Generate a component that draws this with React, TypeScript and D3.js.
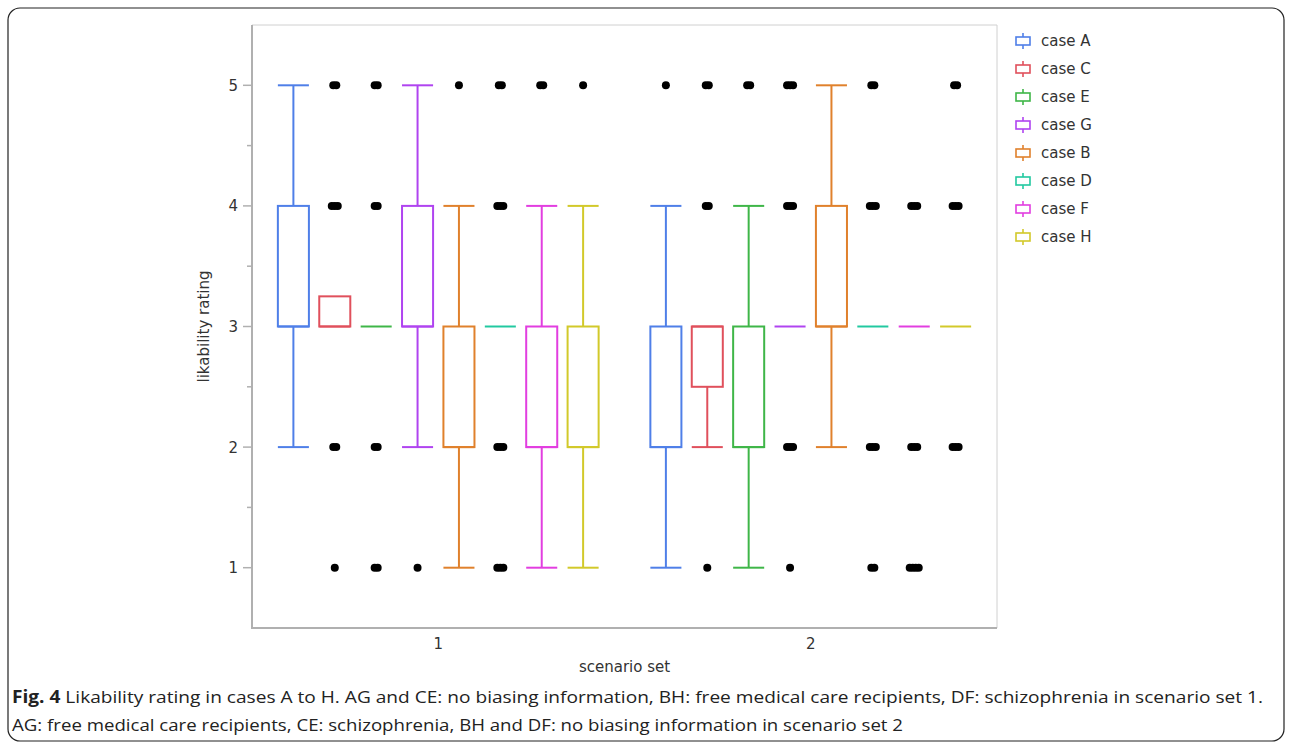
import React from "react";
import * as d3 from "d3";

const scenarios = ["1", "2"];
const cases = ["case A", "case C", "case E", "case G", "case B", "case D", "case F", "case H"];
const caseColors = ["#4f7fe8", "#e0505c", "#3fb648", "#b044f0", "#e0812c", "#22c9a0", "#e23ee0", "#d2c92a"];
const yTicks = [1, 2, 3, 4, 5];

// [whiskerLow, q1, median, q3, whiskerHigh]
const set1Stats = [
  [2, 3, 3, 4, 5],
  [3, 3, 3, 3.25, 3.25],
  [3, 3, 3, 3, 3],
  [2, 3, 3, 4, 5],
  [1, 2, 2, 3, 4],
  [3, 3, 3, 3, 3],
  [1, 2, 2, 3, 4],
  [1, 2, 2, 3, 4],
];
const set2Stats = [
  [1, 2, 2, 3, 4],
  [2, 2.5, 3, 3, 3],
  [1, 2, 2, 3, 4],
  [3, 3, 3, 3, 3],
  [2, 3, 3, 4, 5],
  [3, 3, 3, 3, 3],
  [3, 3, 3, 3, 3],
  [3, 3, 3, 3, 3],
];
// outliers: [value, overlapping count]
const set1Outliers = [
  [],
  [[5, 2], [4, 3], [2, 2], [1, 1]],
  [[5, 2], [4, 2], [2, 2], [1, 2]],
  [[1, 1]],
  [[5, 1]],
  [[5, 2], [4, 3], [2, 3], [1, 3]],
  [[5, 2]],
  [[5, 1]],
];
const set2Outliers = [
  [[5, 1]],
  [[5, 2], [4, 2], [1, 1]],
  [[5, 2]],
  [[5, 3], [4, 3], [2, 3], [1, 1]],
  [],
  [[5, 2], [4, 3], [2, 3], [1, 2]],
  [[4, 3], [2, 3], [1, 4]],
  [[5, 2], [4, 3], [2, 3]],
];

const captionBold = "Fig. 4";
const captionLine1 = " Likability rating in cases A to H. AG and CE: no biasing information, BH: free medical care recipients, DF: schizophrenia in scenario set 1.";
const captionLine2 = "AG: free medical care recipients, CE: schizophrenia, BH and DF: no biasing information in scenario set 2";

export default function App() {
  const W = 1292, H = 747;
  const left = 252, right = 997, top = 25, bottom = 628;
  const x = d3.scaleBand().domain(scenarios).range([left, right]).padding(0);
  const inner = d3.scaleBand().domain(cases).range([0, x.bandwidth()]).paddingInner(0.25).paddingOuter(0.625);
  const y = d3.scaleLinear().domain([0.5, 5.5]).range([bottom, top]);
  const bw = inner.bandwidth();
  const minorTicks = d3.range(1.5, 5.5, 1);
  const font = "'DejaVu Sans', Verdana, sans-serif";

  const groups = [
    { s: scenarios[0], stats: set1Stats, outs: set1Outliers },
    { s: scenarios[1], stats: set2Stats, outs: set2Outliers },
  ];

  return (
    <svg width={W} height={H} style={{ position: "absolute", left: 0, top: 0, background: "#fff" }}>
      <rect x={8} y={8} width={1276} height={733} rx={12} fill="#fff" stroke="#222" strokeWidth={1.2} />
      {/* plot frame */}
      <line x1={left} x2={right} y1={top} y2={top} stroke="#d0d0d0" strokeWidth={1} />
      <line x1={right} x2={right} y1={top} y2={bottom} stroke="#d0d0d0" strokeWidth={1} />
      <line x1={left} x2={left} y1={top} y2={bottom + 1} stroke="#b0b0b0" strokeWidth={2} />
      <line x1={left} x2={right} y1={bottom} y2={bottom} stroke="#b0b0b0" strokeWidth={2} />
      {yTicks.map((t) => (
        <g key={t}>
          <line x1={left - 9} x2={left} y1={y(t)} y2={y(t)} stroke="#b0b0b0" strokeWidth={1.5} />
          <text x={238} y={y(t)} dy="0.36em" textAnchor="end" fontFamily={font} fontSize={15} fill="#333">{t}</text>
        </g>
      ))}
      {minorTicks.map((t) => (
        <line key={t} x1={left - 5} x2={left} y1={y(t)} y2={y(t)} stroke="#b0b0b0" strokeWidth={1.5} />
      ))}
      <text transform={`translate(209,${y(3)}) rotate(-90)`} textAnchor="middle" fontFamily={font} fontSize={15} fill="#333">likability rating</text>
      {scenarios.map((s) => (
        <text key={s} x={(x(s) as number) + x.bandwidth() / 2} y={649} textAnchor="middle" fontFamily={font} fontSize={15} fill="#333">{s}</text>
      ))}
      <text x={(left + right) / 2} y={672} textAnchor="middle" fontFamily={font} fontSize={15} fill="#333">scenario set</text>

      {groups.map((g) => (
        <g key={g.s}>
          {cases.map((c, i) => {
            const st = g.stats[i];
            const x0 = (x(g.s) as number) + (inner(c) as number);
            const cx = x0 + bw / 2;
            const col = caseColors[i];
            const [lo, q1, med, q3, hi] = st;
            return (
              <g key={c} stroke={col} strokeWidth={2} fill="none">
                {hi > q3 && <line x1={cx} x2={cx} y1={y(q3)} y2={y(hi)} />}
                {lo < q1 && <line x1={cx} x2={cx} y1={y(q1)} y2={y(lo)} />}
                {hi > q3 && <line x1={x0} x2={x0 + bw} y1={y(hi)} y2={y(hi)} />}
                {lo < q1 && <line x1={x0} x2={x0 + bw} y1={y(lo)} y2={y(lo)} />}
                {q3 > q1 ? (
                  <rect x={x0} y={y(q3)} width={bw} height={y(q1) - y(q3)} />
                ) : null}
                <line x1={x0} x2={x0 + bw} y1={y(med)} y2={y(med)} />
                {g.outs[i].map(([v, n]) => (
                  <g key={v} stroke="none" fill="#000">
                    {d3.range(n).map((k) => (
                      <circle key={k} cx={cx + (k - (n - 1) / 2) * 3} cy={y(v)} r={4} />
                    ))}
                  </g>
                ))}
              </g>
            );
          })}
        </g>
      ))}

      {/* legend */}
      {cases.map((c, i) => {
        const ly = 41 + i * 28;
        const col = caseColors[i];
        return (
          <g key={c}>
            <g stroke={col} strokeWidth={1.6} fill="none">
              <line x1={1023} x2={1023} y1={ly - 8} y2={ly + 8} />
              <rect x={1016} y={ly - 4} width={14} height={8} fill="#fff" />
            </g>
            <text x={1041} y={ly} dy="0.36em" fontFamily={font} fontSize={15} fill="#333">{c}</text>
          </g>
        );
      })}

      {/* caption */}
      <text x={12} y={703} fontFamily="'Open Sans', sans-serif" fontSize={17} fill="#222" textLength={1251} lengthAdjust="spacingAndGlyphs">
        <tspan fontWeight="bold">{captionBold}</tspan>
        <tspan>{captionLine1}</tspan>
      </text>
      <text x={12} y={731} fontFamily="'Open Sans', sans-serif" fontSize={17} fill="#222" textLength={891} lengthAdjust="spacingAndGlyphs">{captionLine2}</text>
    </svg>
  );
}
